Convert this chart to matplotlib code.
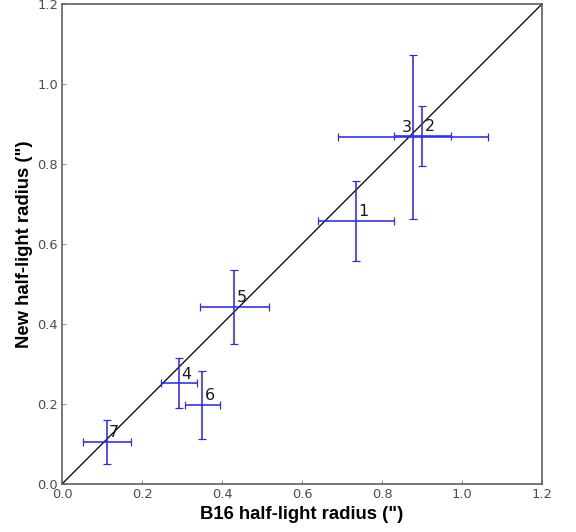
import numpy as np
import matplotlib
matplotlib.use('Agg')
import matplotlib.pyplot as plt

# half-light radii (arcsec): B16 vs new measurement
ids = ['1', '2', '3', '4', '5', '6', '7']
r_b16 = [0.735, 0.901, 0.877, 0.293, 0.431, 0.351, 0.112]
r_b16_err = [0.095, 0.071, 0.187, 0.045, 0.086, 0.044, 0.060]
r_new = [0.658, 0.870, 0.868, 0.252, 0.443, 0.198, 0.106]
r_new_err = [0.100, 0.075, 0.205, 0.062, 0.092, 0.085, 0.055]

fig = plt.figure(figsize=(8, 532 / 72.), dpi=72)
ax = fig.add_axes([62 / 576., 48 / 532., 480 / 576., 480 / 532.])

ax.plot([0, 1.2], [0, 1.2], color='k', lw=1.3)
ax.errorbar(r_b16, r_new, xerr=r_b16_err, yerr=r_new_err, fmt='none',
            ecolor='#2a2aff', elinewidth=1.6, capsize=4, capthick=1.2)

for i, lab in enumerate(ids):
    dx = 0.006
    ha = 'left'
    if lab == '3':
        dx = -0.002
        ha = 'right'
    ax.text(r_b16[i] + dx, r_new[i] + 0.004, lab, fontsize=16, ha=ha,
            va='bottom', color='0.1')

ax.set_xlim(0, 1.2)
ax.set_ylim(0, 1.2)
ticks = np.arange(0, 1.21, 0.2)
ax.set_xticks(ticks)
ax.set_yticks(ticks)
ax.set_xticklabels(['%.1f' % t for t in ticks])
ax.set_yticklabels(['%.1f' % t for t in ticks])
ax.tick_params(direction='in', length=4, width=0.8, colors='0.45',
               labelsize=13, labelcolor='0.3', pad=4, top=False, right=False)
for s in ax.spines.values():
    s.set_color('0.35')
    s.set_linewidth(1.6)

ax.set_xlabel('B16 half-light radius (")', fontsize=18.5, fontweight='bold',
              family='Liberation Sans', labelpad=5)
ax.set_ylabel('New half-light radius (")', fontsize=18.5, fontweight='bold',
              family='Liberation Sans', labelpad=4)

fig.savefig('out.png', dpi=72)
